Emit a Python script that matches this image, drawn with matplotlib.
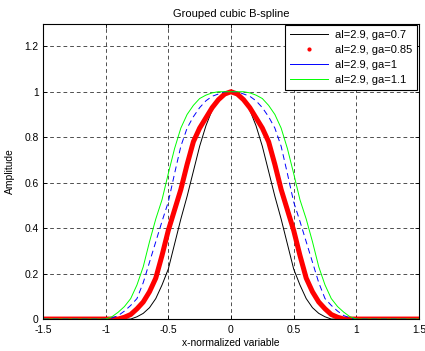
import matplotlib
matplotlib.use("Agg")
import matplotlib.pyplot as plt
from matplotlib.lines import Line2D

plt.rcParams['font.family'] = ['Liberation Sans', 'DejaVu Sans']

# x positions (normalized variable) where the curves were read
x = [-1.5, -1.0, -0.95, -0.9, -0.85, -0.8, -0.75, -0.7, -0.65, -0.6, -0.55, -0.5,
     -0.45, -0.4, -0.35, -0.3, -0.25, -0.2, -0.15, -0.1, -0.05, 0.0,
     0.05, 0.1, 0.15, 0.2, 0.25, 0.3, 0.35, 0.4, 0.45, 0.5, 0.55, 0.6,
     0.65, 0.7, 0.75, 0.8, 0.85, 0.9, 0.95, 1.0, 1.5]

# al=2.9, ga=0.7
y_ga07 = [0, 0, 0, 0, 0, 0.0, 0.01, 0.025, 0.05, 0.09, 0.15, 0.22,
          0.33, 0.44, 0.54, 0.65, 0.76, 0.85, 0.92, 0.965, 0.99, 1.0,
          0.99, 0.965, 0.92, 0.85, 0.76, 0.65, 0.54, 0.44, 0.33, 0.22, 0.15, 0.09,
          0.05, 0.025, 0.01, 0.0, 0, 0, 0, 0, 0]
# al=2.9, ga=0.85
y_ga085 = [0, 0, 0, 0.0, 0.008, 0.02, 0.045, 0.075, 0.12, 0.18, 0.28, 0.39,
           0.48, 0.57, 0.68, 0.78, 0.84, 0.885, 0.93, 0.965, 0.99, 1.0,
           0.99, 0.965, 0.93, 0.885, 0.84, 0.78, 0.68, 0.57, 0.48, 0.39, 0.28, 0.18,
           0.12, 0.075, 0.045, 0.02, 0.008, 0.0, 0, 0, 0]
# al=2.9, ga=1
y_ga1 = [0, 0.0, 0.005, 0.015, 0.035, 0.06, 0.09, 0.16, 0.25, 0.34, 0.43, 0.515,
         0.64, 0.76, 0.84, 0.89, 0.93, 0.96, 0.98, 0.99, 1.0, 1.0,
         1.0, 0.99, 0.98, 0.96, 0.93, 0.89, 0.84, 0.76, 0.64, 0.515, 0.43, 0.34,
         0.25, 0.16, 0.09, 0.06, 0.035, 0.015, 0.005, 0.0, 0]
# al=2.9, ga=1.1
y_ga11 = [0, 0.0, 0.01, 0.03, 0.055, 0.09, 0.15, 0.23, 0.34, 0.44, 0.525, 0.64,
          0.75, 0.84, 0.9, 0.94, 0.97, 0.985, 0.995, 1.0, 1.0, 1.0,
          1.0, 1.0, 0.995, 0.985, 0.97, 0.94, 0.9, 0.84, 0.75, 0.64, 0.525, 0.44,
          0.34, 0.23, 0.15, 0.09, 0.055, 0.03, 0.01, 0.0, 0]

labels = ['al=2.9, ga=0.7', 'al=2.9, ga=0.85', 'al=2.9, ga=1', 'al=2.9, ga=1.1']

fig = plt.figure(figsize=(4.25, 3.51), dpi=100)
ax = fig.add_axes([0.101, 0.091, 0.885, 0.842])

ax.plot(x, y_ga07, color='k', lw=0.7)
ax.plot(x, y_ga085, color='r', lw=3.6, solid_joinstyle='round')
ax.plot(x, y_ga1, color='b', lw=0.7, ls=(0, (6, 4)))
ax.plot(x, y_ga11, color='#00ff00', lw=0.7)

ax.set_xlim(-1.5, 1.5)
ax.set_ylim(0, 1.3)
ax.set_xticks([-1.5, -1, -0.5, 0, 0.5, 1, 1.5])
ax.set_xticklabels(['-1.5', '-1', '-0.5', '0', '0.5', '1', '1.5'])
ax.set_yticks([0, 0.2, 0.4, 0.6, 0.8, 1, 1.2])
ax.set_yticklabels(['0', '0.2', '0.4', '0.6', '0.8', '1', '1.2'])
ax.tick_params(direction='in', top=True, right=True, labelsize=7.4, length=3, width=0.6)
ax.tick_params(axis='x', pad=4.5)
ax.tick_params(axis='y', pad=3)
ax.grid(True, color='k', ls=(0, (4.5, 3.5)), lw=0.6, alpha=0.8)
for s in ax.spines.values():
    s.set_linewidth(0.8)

ax.set_title('Grouped cubic B-spline', fontsize=8, pad=5)
ax.set_xlabel('x-normalized variable', fontsize=7.4, labelpad=2)
ax.set_ylabel('Amplitude', fontsize=7.4, labelpad=7)

handles = [Line2D([], [], color='k', lw=0.7),
           Line2D([], [], color='r', marker='.', ls='none', markersize=4),
           Line2D([], [], color='b', lw=0.7),
           Line2D([], [], color='#00ff00', lw=0.7)]
leg = ax.legend(handles, labels, loc='upper right', fontsize=8, fancybox=False,
                framealpha=1, edgecolor='k', borderaxespad=0.15, handlelength=3.5,
                labelspacing=0.45, borderpad=0.45, handletextpad=0.6)
leg.get_frame().set_linewidth(0.8)

fig.savefig('out.png', dpi=100)
